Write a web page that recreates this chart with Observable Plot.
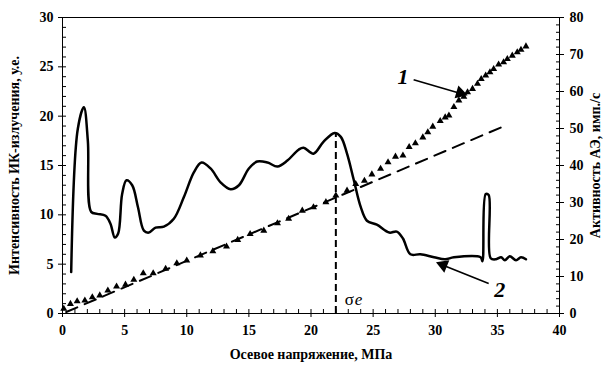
<!DOCTYPE html>
<html><head><meta charset="utf-8">
<script src="https://cdn.jsdelivr.net/npm/d3@7"></script>
<script src="https://cdn.jsdelivr.net/npm/@observablehq/plot@0.6"></script>
<style>
body{margin:0;background:#fff}
</style>
</head><body><div id="chart"></div>
<script>
// Curve 2: IR intensity (left axis, a.u.)
const irX = [0.7,1.23,1.72,2.04,2.31,2.79,3.46,3.86,4.21,4.48,4.8,5.15,5.61,6.07,6.55,6.95,7.49,8.16,8.96,9.77,10.57,11.19,11.92,12.72,13.53,14.2,15.0,15.67,16.5,17.3,18.1,19.0,19.4,20.2,21.0,21.9,22.4,22.9,23.45,24.0,24.5,25.3,26.3,26.9,27.4,28.0,28.8,29.9,30.8,31.5,33.65,33.8,34.06,34.3,34.46,34.9,35.3,35.6,36.0,36.5,36.9,37.3];
const irY = [4.2,18.7,20.9,17.5,10.3,10.1,9.9,9.1,7.7,8.1,12.1,13.5,13.0,10.8,8.4,8.2,8.7,8.8,9.6,11.8,14.3,15.3,14.7,13.3,12.6,13.0,14.7,15.4,15.3,14.9,15.5,16.6,16.8,16.2,17.4,18.3,17.9,16.2,13.5,10.8,9.4,9.0,8.2,8.3,7.6,6.0,6.0,5.7,5.5,5.7,5.7,5.3,12.1,12.0,5.6,5.5,5.7,5.4,5.8,5.4,5.7,5.5];
// Curve 1: AE activity (right axis, pulses/s)
const aeX = [0.1,0.64,1.18,1.8,2.4,3.0,3.65,4.35,5.07,5.74,6.5,7.3,8.3,9.2,10.0,11.1,12.1,13.2,14.1,15.1,16.2,17.3,18.2,19.3,20.2,21.2,22.0,22.9,23.6,24.3,24.9,25.6,26.2,26.8,27.4,27.9,28.4,29.0,29.4,29.8,30.4,30.8,31.1,31.5,31.9,32.3,32.6,33.0,33.4,33.7,34.06,34.4,34.7,35.1,35.5,35.8,36.2,36.6,36.9,37.3];
const aeY = [1.3,2.6,3.3,3.5,4.4,4.9,6.2,7.3,7.8,9.1,10.9,10.9,12.1,13.6,14.3,15.7,16.8,18.1,19.9,21.5,22.4,24.4,25.6,27.8,28.7,30.1,31.9,33.2,35.0,35.9,37.6,39.1,40.9,42.4,42.7,45.0,46.0,47.6,49.0,50.5,52.0,53.0,53.5,55.8,57.6,58.6,59.8,60.7,62.1,63.4,64.3,65.2,66.1,67.3,67.9,68.8,69.7,70.6,71.3,72.2];
// Dashed linear trend of AE (right axis units)
const trendX = [0.3, 35.3];
const trendY = [0.4, 50.3];
// Elastic limit
const sigmaE = 22;
const sigmaEPeak = 18.2;
// Tick labels
const xTicks = [0,5,10,15,20,25,30,35,40];
const yLeftTicks = [0,5,10,15,20,25,30];
const yRightTicks = [0,10,20,30,40,50,60,70,80];
// Annotations
const arrowLabels = ["1","2"];
const arrowFromX = [28.26, 34.3], arrowFromY = [23.7, 3.04];
const arrowToX = [32.05, 30.68], arrowToY = [22.3, 4.86];
const labelX = [27.4, 35.2], labelY = [24.0, 2.4];
const xTitle = "Осевое напряжение, МПа";
const yLeftTitle = "Интенсивность ИК-излучения, у.е.";
const yRightTitle = "Активность АЭ, имп./с";

const k = 30/80;
const ir = irX.map((x,i)=>({x, y: irY[i]}));
const ae = aeX.map((x,i)=>({x, y: aeY[i]*k}));
const trend = trendX.map((x,i)=>({x, y: trendY[i]*k}));
const arrows = arrowLabels.map((t,i)=>({t, x1: arrowFromX[i], y1: arrowFromY[i], x2: arrowToX[i], y2: arrowToY[i], lx: labelX[i], ly: labelY[i]}));

const font = "Liberation Serif";
const minorX = d3.range(0,41,1).filter(v=>v%5);
const minorYL = d3.range(0,31,1).filter(v=>v%5);
const minorYR = d3.range(0,81,2).filter(v=>v%10).map(v=>v*k);

function build(rot) {
  return {
    width: 607, height: 369,
    marginLeft: 62, marginRight: 48, marginTop: 17, marginBottom: 56,
    style: {fontFamily: font, fontSize: "14px", fontWeight: "bold", color: "#000", background: "#fff"},
    x: {domain: [0,40]},
    y: {domain: [0,30]},
    marks: [
      Plot.frame({stroke: "#000", strokeWidth: 1}),
      // bottom axis
      Plot.axisX(xTicks, {anchor: "bottom", tickSize: 4, tickPadding: 8, label: null, fontSize: 14, fontFamily: font}),
      Plot.axisX(xTicks, {anchor: "bottom", tickSize: -4, tickFormat: () => "", label: null}),
      Plot.axisX(minorX, {anchor: "bottom", tickSize: -4, tickFormat: () => "", label: null}),
      // left axis
      Plot.axisY(yLeftTicks, {anchor: "left", tickSize: 4, tickPadding: 5, label: null, fontSize: 14, fontFamily: font}),
      Plot.axisY(yLeftTicks, {anchor: "left", tickSize: -4, tickFormat: () => "", label: null}),
      Plot.axisY(minorYL, {anchor: "left", tickSize: -4, tickFormat: () => "", label: null}),
      // right axis
      Plot.axisY(yRightTicks.map(v=>v*k), {anchor: "right", tickSize: 4, tickPadding: 6, tickFormat: d => String(Math.round(d/k)), label: null, fontSize: 14, fontFamily: font}),
      Plot.axisY(yRightTicks.map(v=>v*k), {anchor: "right", tickSize: -4, tickFormat: () => "", label: null}),
      Plot.axisY(minorYR, {anchor: "right", tickSize: -4, tickFormat: () => "", label: null}),
      // titles
      Plot.text([xTitle], {frameAnchor: "bottom", textAnchor: "middle", dy: 45, text: d => d, fontSize: 14, fontWeight: "bold", fontFamily: font}),
      Plot.text([yLeftTitle], {frameAnchor: "left", textAnchor: "middle", dx: -48, rotate: -90, text: d => d, fontSize: 14, fontWeight: "bold", fontFamily: font}),
      Plot.text([yRightTitle], {frameAnchor: "right", textAnchor: "middle", dx: 36, rotate: -90, text: d => d, fontSize: 14, fontWeight: "bold", fontFamily: font}),
      // sigma_e
      Plot.ruleX([sigmaE], {y1: 0, y2: sigmaEPeak, stroke: "#000", strokeWidth: 2, strokeDasharray: "7,4"}),
      Plot.text(["σ"], {x: sigmaE, y: 0, dx: 9, dy: -9, text: d => d, textAnchor: "start", lineAnchor: "bottom", fontSize: 17, fontWeight: "normal", fontFamily: font}),
      Plot.text(["e"], {x: sigmaE, y: 0, dx: 19, dy: -9, text: d => d, textAnchor: "start", lineAnchor: "bottom", fontSize: 17, fontWeight: "normal", fontStyle: "italic", fontFamily: font}),
      // AE trend and points
      Plot.line(trend, {x: "x", y: "y", stroke: "#000", strokeWidth: 2, strokeDasharray: "12,8"}),
      Plot.dot(ae, {x: "x", y: "y", symbol: "triangle", r: 2.6, fill: "#000", stroke: "none"}),
      // IR curve
      Plot.line(ir, {x: "x", y: "y", curve: "catmull-rom", stroke: "#000", strokeWidth: 2.5}),
      // arrows
      Plot.link(arrows, {x1: "x1", y1: "y1", x2: "x2", y2: "y2", stroke: "#000", strokeWidth: 1.6}),
      Plot.dot(arrows, {x: "x2", y: "y2", symbol: "triangle", r: 5, fill: "#000", stroke: "none", rotate: (d,i) => rot ? rot[i].a : 0, dx: (d,i)=> rot ? rot[i].dx : 0, dy: (d,i)=> rot ? rot[i].dy : 0}),
      Plot.text(arrows, {x: "lx", y: "ly", text: "t", fontSize: 22, fontStyle: "italic", fontWeight: "bold", fontFamily: font})
    ]
  };
}
const tmp = Plot.plot(build(null));
const sx = tmp.scale("x"), sy = tmp.scale("y");
const rot = arrows.map(d => {
  const px = sx.apply(d.x2) - sx.apply(d.x1), py = sy.apply(d.y2) - sy.apply(d.y1);
  const len = Math.hypot(px, py);
  return {a: Math.atan2(px, -py) * 180 / Math.PI, dx: -px/len*4, dy: -py/len*4};
});
document.getElementById("chart").append(Plot.plot(build(rot)));
</script>
</body></html>
